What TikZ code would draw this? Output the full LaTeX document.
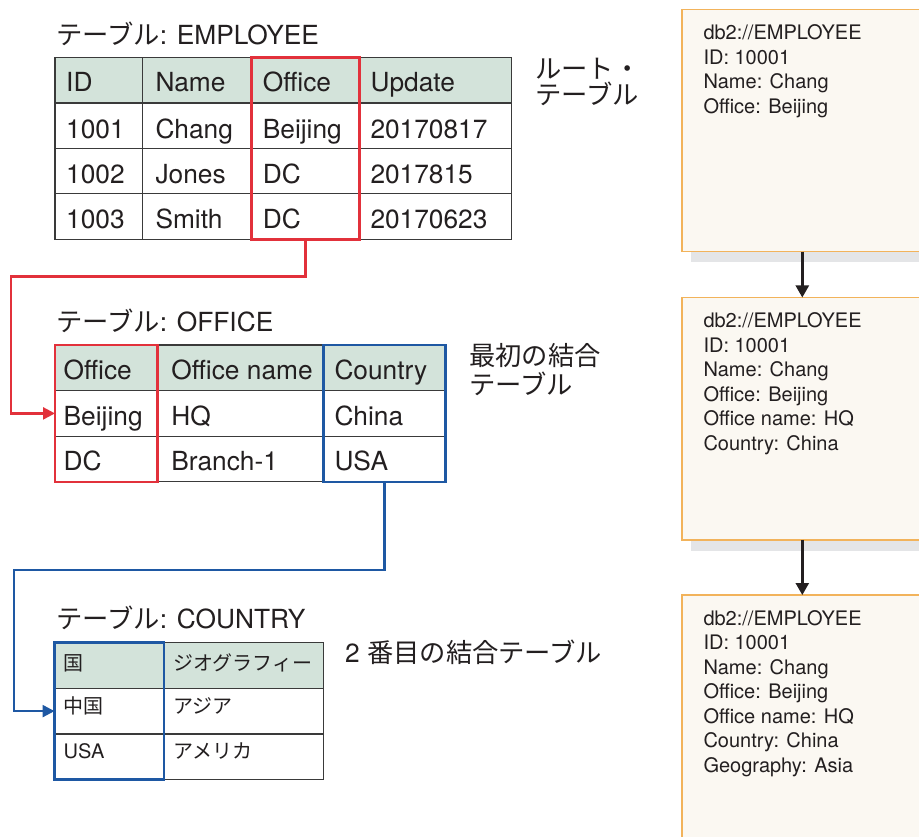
\documentclass[tikz,border=0pt]{standalone}
\usepackage{fontspec}
\setmainfont{TeX Gyre Heros}
\newfontfamily\jp{Noto Sans CJK JP}
\usetikzlibrary{arrows.meta,fit,shadows}
\definecolor{tline}{HTML}{3A3A3A}
\definecolor{headfill}{HTML}{D3E3DA}
\definecolor{selred}{HTML}{E2313B}
\definecolor{selblue}{HTML}{1E58A3}
\definecolor{boxline}{HTML}{F2B35B}
\definecolor{boxfill}{HTML}{FBF8F2}
\definecolor{shadowgray}{HTML}{E4E5E7}
\definecolor{ink}{HTML}{231F20}
\def\pad{10}
% name, x, y, width, height, fill, text, baseline offset, text style
\newcommand\tcell[9]{%
  \node[cell,fill=#6,minimum width=#4pt,minimum height=#5pt,anchor=north west] (#1) at (#2,#3) {};
  \node[#9,anchor=base west] (#1t) at (#2+\pad,#3+#8) {#7};
}
\begin{document}
\begin{tikzpicture}[x=1pt,y=-1pt,
  cell/.style={rectangle,draw=tline,line width=1.2pt,inner sep=0pt,outer sep=0pt},
  bigtxt/.style={font=\fontsize{26.3}{30}\selectfont,text=ink,inner sep=0pt},
  midtxt/.style={font=\fontsize{20}{24}\selectfont,text=ink,inner sep=0pt},
  boxtxt/.style={font=\fontsize{20}{24}\selectfont,text=ink,inner sep=0pt},
  redsel/.style={rectangle,draw=selred,line width=2.5pt,inner sep=0pt,outer sep=0pt},
  bluesel/.style={rectangle,draw=selblue,line width=2.5pt,inner sep=0pt,outer sep=0pt},
  redcon/.style={draw=selred,line width=2.4pt,-{Triangle[length=12pt,width=12pt]}},
  bluecon/.style={draw=selblue,line width=2.4pt,-{Triangle[length=12pt,width=12pt]}},
  recbox/.style={rectangle,draw=boxline,fill=boxfill,line width=1.4pt,inner sep=0pt,outer sep=0pt,
    minimum width=240.6pt,minimum height=242.4pt,anchor=north west,
    drop shadow={shadow xshift=9pt,shadow yshift=-10.6pt,fill=shadowgray,opacity=1}},
  darrow/.style={draw=ink,line width=2.4pt,-{Triangle[length=12pt,width=13pt]}}
]
\useasboundingbox (0,0) rectangle (919,837);
\clip (0,0) rectangle (919,837);
\fill[white] (0,0) rectangle (919,837);

% ---------- EMPLOYEE ----------
\node[bigtxt,anchor=base west] (temp) at (56,44.3) {{\jp テーブル}: EMPLOYEE};
\def\pad{11}
\tcell{e01}{55}{57.7}{87.3}{45.4}{headfill}{ID}{34}{bigtxt}
\tcell{e11}{55}{103.1}{87.3}{45.4}{white}{1001}{35}{bigtxt}
\tcell{e21}{55}{148.5}{87.3}{45.4}{white}{1002}{35}{bigtxt}
\tcell{e31}{55}{193.9}{87.3}{45.4}{white}{1003}{35}{bigtxt}
\def\pad{13}
\tcell{e02}{142.3}{57.7}{109.4}{45.4}{headfill}{Name}{34}{bigtxt}
\tcell{e12}{142.3}{103.1}{109.4}{45.4}{white}{Chang}{35}{bigtxt}
\tcell{e22}{142.3}{148.5}{109.4}{45.4}{white}{Jones}{35}{bigtxt}
\tcell{e32}{142.3}{193.9}{109.4}{45.4}{white}{Smith}{35}{bigtxt}
\def\pad{11}
\tcell{e03}{251.7}{57.7}{107.6}{45.4}{headfill}{Office}{34}{bigtxt}
\tcell{e13}{251.7}{103.1}{107.6}{45.4}{white}{Beijing}{35}{bigtxt}
\tcell{e23}{251.7}{148.5}{107.6}{45.4}{white}{DC}{35}{bigtxt}
\tcell{e33}{251.7}{193.9}{107.6}{45.4}{white}{DC}{35}{bigtxt}
\tcell{e04}{359.3}{57.7}{152.4}{45.4}{headfill}{Update}{34}{bigtxt}
\tcell{e14}{359.3}{103.1}{152.4}{45.4}{white}{20170817}{35}{bigtxt}
\tcell{e24}{359.3}{148.5}{152.4}{45.4}{white}{2017815}{35}{bigtxt}
\tcell{e34}{359.3}{193.9}{152.4}{45.4}{white}{20170623}{35}{bigtxt}
\node[redsel,fit=(e03)(e33)] (esel) {};

\node[bigtxt,anchor=base west] (lroot1) at (535,78.5) {\jp ルート・};
\node[bigtxt,anchor=base west] (lroot2) at (535,105) {\jp テーブル};

% ---------- OFFICE ----------
\node[bigtxt,anchor=base west] (toff) at (56,331.7) {{\jp テーブル}: OFFICE};
\def\pad{8.5}
\tcell{o01}{55}{345}{102.7}{45.6}{headfill}{Office}{34.5}{bigtxt}
\tcell{o11}{55}{390.6}{102.7}{45.6}{white}{Beijing}{34.5}{bigtxt}
\tcell{o21}{55}{436.2}{102.7}{45.6}{white}{DC}{34.5}{bigtxt}
\def\pad{13.5}
\tcell{o02}{157.7}{345}{165.6}{45.6}{headfill}{Office name}{34.5}{bigtxt}
\tcell{o12}{157.7}{390.6}{165.6}{45.6}{white}{HQ}{34.5}{bigtxt}
\tcell{o22}{157.7}{436.2}{165.6}{45.6}{white}{Branch-1}{34.5}{bigtxt}
\def\pad{11}
\tcell{o03}{323.3}{345}{122.4}{45.6}{headfill}{Country}{34.5}{bigtxt}
\tcell{o13}{323.3}{390.6}{122.4}{45.6}{white}{China}{34.5}{bigtxt}
\tcell{o23}{323.3}{436.2}{122.4}{45.6}{white}{USA}{34.5}{bigtxt}
\node[redsel,fit=(o01)(o21)] (osel1) {};
\node[bluesel,fit=(o03)(o23)] (osel2) {};

\node[bigtxt,anchor=base west] (lfirst1) at (469,365) {\jp 最初の結合};
\node[bigtxt,anchor=base west] (lfirst2) at (469,394.5) {\jp テーブル};

% ---------- COUNTRY ----------
\node[bigtxt,anchor=base west] (tcty) at (56,628.3) {{\jp テーブル}: COUNTRY};
\def\pad{9}
\tcell{c01}{54.5}{642.7}{109.5}{45.6}{headfill}{\jp 国}{28}{midtxt}
\tcell{c02}{164}{642.7}{159.3}{45.6}{headfill}{\jp ジオグラフィー}{28}{midtxt}
\tcell{c11}{54.5}{688.3}{109.5}{45.6}{white}{\jp 中国}{25}{midtxt}
\tcell{c12}{164}{688.3}{159.3}{45.6}{white}{\jp アジア}{25}{midtxt}
\tcell{c21}{54.5}{733.9}{109.5}{45.6}{white}{USA}{25}{midtxt}
\tcell{c22}{164}{733.9}{159.3}{45.6}{white}{\jp アメリカ}{25}{midtxt}
\node[bluesel,fit=(c01)(c21)] (csel) {};

\node[bigtxt,anchor=base west] (lsecond) at (345,662.5) {2 {\jp 番目の結合テーブル}};

% ---------- connectors ----------
\coordinate (rbend) at (11,276.7);
\draw[redcon] (esel.south) |- (rbend) |- (o11.west);
\coordinate (bbend) at (14,570);
\draw[bluecon] (osel2.south) |- (bbend) |- (c11.west);

% ---------- record boxes ----------
\node[recbox] (r1) at (682,9.3) {};
\node[recbox] (r2) at (682,297.5) {};
\node[recbox] (r3) at (682,595) {};
\draw[darrow] (r1.south) -- (r2.north);
\draw[darrow] (r2.south) -- (r3.north);

\foreach \t [count=\i] in {db2://EMPLOYEE,ID: 10001,Name: Chang,Office: Beijing}
  \node[boxtxt,anchor=base west] (r1l\i) at (703.3,15.1+24.5*\i) {\t};
\foreach \t [count=\i] in {db2://EMPLOYEE,ID: 10001,Name: Chang,Office: Beijing,Office name: HQ,Country: China}
  \node[boxtxt,anchor=base west] (r2l\i) at (703.3,303.3+24.5*\i) {\t};
\foreach \t [count=\i] in {db2://EMPLOYEE,ID: 10001,Name: Chang,Office: Beijing,Office name: HQ,Country: China,Geography: Asia}
  \node[boxtxt,anchor=base west] (r3l\i) at (703.3,600.8+24.5*\i) {\t};
\end{tikzpicture}
\end{document}
